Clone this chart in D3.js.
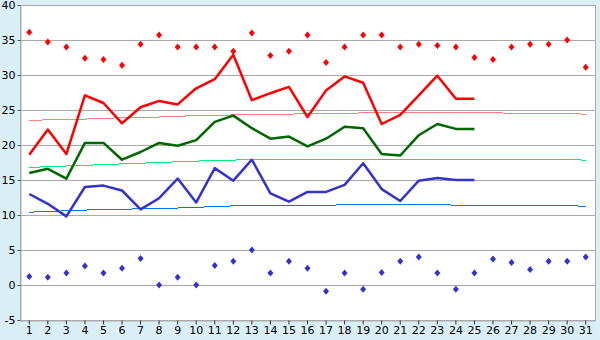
<!DOCTYPE html>
<script src="https://cdn.jsdelivr.net/npm/d3@7"></script>
<html>
<head>
<style>
  body { margin: 0; background: #d9eef5; }
  text { font-family: "DejaVu Sans", Verdana, sans-serif; font-size: 11px; fill: #000; }
</style>
</head>
<body>
<div id="chart-div"></div>
<script>
  // days of the month
  const days = d3.range(1, 32);

  // daily extremes (diamonds)
  const maxTemps = [36.1, 34.7, 34.0, 32.4, 32.2, 31.4, 34.4, 35.7, 34.0, 34.0,
                    34.0, 33.4, 36.0, 32.8, 33.4, 35.7, 31.8, 34.0, 35.7, 35.7,
                    34.0, 34.4, 34.2, 34.0, 32.5, 32.2, 34.0, 34.4, 34.4, 35.0, 31.1];
  const minTemps = [1.2, 1.1, 1.7, 2.7, 1.7, 2.4, 3.8, 0.0, 1.1, 0.0,
                    2.8, 3.4, 5.0, 1.7, 3.4, 2.4, -0.9, 1.7, -0.6, 1.8,
                    3.4, 4.0, 1.7, -0.6, 1.7, 3.7, 3.2, 2.2, 3.4, 3.4, 4.0];

  // this month's daily values (days 1-25)
  const dayMax = [18.6, 22.2, 18.7, 27.1, 26.0, 23.1, 25.4, 26.3, 25.8, 28.1,
                  29.4, 32.9, 26.4, 27.4, 28.3, 24.0, 27.8, 29.8, 28.9, 23.0,
                  24.3, 27.1, 29.9, 26.6, 26.6];
  const dayMean = [16.0, 16.6, 15.2, 20.3, 20.3, 17.9, 19.0, 20.3, 19.9, 20.7,
                   23.3, 24.2, 22.4, 20.9, 21.2, 19.8, 20.9, 22.6, 22.4, 18.7,
                   18.5, 21.4, 23.0, 22.3, 22.3];
  const dayMin = [13.0, 11.6, 9.8, 14.0, 14.2, 13.5, 10.8, 12.4, 15.2, 11.8,
                  16.7, 14.9, 17.9, 13.1, 11.9, 13.3, 13.3, 14.3, 17.4, 13.7,
                  12.0, 14.9, 15.3, 15.0, 15.0];

  // long-term normals (all 31 days)
  const normMax = [23.5, 23.6, 23.6, 23.7, 23.8, 23.9, 23.9, 24.0, 24.1, 24.2,
                   24.2, 24.3, 24.3, 24.4, 24.4, 24.5, 24.5, 24.5, 24.6, 24.6,
                   24.65, 24.65, 24.65, 24.65, 24.65, 24.65, 24.5, 24.5, 24.5, 24.5, 24.4];
  const normMean = [16.8, 16.9, 17.0, 17.1, 17.2, 17.3, 17.4, 17.5, 17.6, 17.7,
                    17.8, 17.85, 17.9, 18.0, 18.0, 18.0, 18.0, 18.0, 18.0, 18.0,
                    18.0, 18.0, 18.0, 18.0, 18.0, 18.0, 18.0, 18.0, 18.0, 18.0, 17.8];
  const normMin = [10.4, 10.5, 10.6, 10.7, 10.8, 10.8, 10.9, 11.0, 11.0, 11.1,
                   11.2, 11.3, 11.3, 11.4, 11.4, 11.4, 11.4, 11.45, 11.5, 11.5,
                   11.5, 11.5, 11.5, 11.4, 11.4, 11.4, 11.4, 11.4, 11.4, 11.4, 11.2];

  const yTicks = [-5, 0, 5, 10, 15, 20, 25, 30, 35, 40];

  const W = 600, H = 340;
  const margin = { top: 5, right: 5, bottom: 20, left: 20 };
  const width = W - margin.left - margin.right;
  const height = H - margin.top - margin.bottom;

  const svg = d3.select("#chart-div")
    .append("svg")
    .attr("width", W)
    .attr("height", H)
    .style("display", "block")
    .append("g")
    .attr("transform", "translate(" + margin.left + "," + margin.top + ")");

  const x = d3.scaleBand()
    .domain(days)
    .range([0, width]);
  const cx = d => x(d) + x.bandwidth() / 2;

  const y = d3.scaleLinear()
    .domain([-5, 40])
    .range([height, 0]);

  // white plot area
  svg.append("rect")
    .attr("width", width)
    .attr("height", height)
    .attr("fill", "#fff")
    .attr("stroke", "#aaa")
    .attr("shape-rendering", "crispEdges");

  // grid lines
  svg.append("g")
    .selectAll("line")
    .data(yTicks)
    .enter()
    .append("line")
    .attr("x1", 0)
    .attr("x2", width)
    .attr("y1", d => Math.round(y(d)) + 0.5)
    .attr("y2", d => Math.round(y(d)) + 0.5)
    .attr("stroke", "#aaa");

  // y axis
  const yAxis = svg.append("g")
    .attr("transform", "translate(0.5,0)")
    .call(d3.axisLeft(y).tickValues(yTicks).tickSize(3).tickPadding(2).tickFormat(d => String(d)));
  yAxis.select(".domain").attr("stroke", "#aaa");
  yAxis.selectAll(".tick line").attr("stroke", "#555");
  yAxis.selectAll("text").style("font-size", "11px").attr("fill", "#000");

  // x axis
  const xAxis = svg.append("g")
    .attr("transform", "translate(0," + (height + 0.5) + ")")
    .call(d3.axisBottom(x).tickSize(4).tickPadding(2).tickSizeOuter(0));
  xAxis.select(".domain").attr("stroke", "#aaa");
  xAxis.selectAll(".tick line").attr("stroke", "#333");
  xAxis.selectAll("text").style("font-size", "11px").attr("fill", "#000");

  // thin normal lines
  const normLine = d3.line().x((d, i) => cx(days[i])).y(d => y(d));
  const normals = [
    { data: normMax, color: "#ff8080" },
    { data: normMean, color: "#00ee77" },
    { data: normMin, color: "#0077ee" }
  ];
  svg.append("g")
    .selectAll("path")
    .data(normals)
    .enter()
    .append("path")
    .attr("d", d => normLine(d.data))
    .attr("fill", "none")
    .attr("stroke", d => d.color)
    .attr("stroke-width", 1)
    .attr("shape-rendering", "crispEdges");

  // this month's lines
  const line = d3.line().x((d, i) => cx(days[i])).y(d => y(d));
  const series = [
    { data: dayMax, color: "#ff0000" },
    { data: dayMean, color: "#006600" },
    { data: dayMin, color: "#3333cc" }
  ];
  svg.append("g")
    .selectAll("path")
    .data(series)
    .enter()
    .append("path")
    .attr("d", d => line(d.data))
    .attr("fill", "none")
    .attr("stroke", d => d.color)
    .attr("stroke-width", 2.5)
    .attr("stroke-linejoin", "round");

  // extreme diamonds
  const diamond = "M0,-3.5L3,0L0,3.5L-3,0Z";
  const points = [
    { data: maxTemps, color: "#ff0000" },
    { data: minTemps, color: "#3333cc" }
  ];
  points.forEach(p => {
    svg.append("g")
      .selectAll("path")
      .data(p.data)
      .enter()
      .append("path")
      .attr("d", diamond)
      .attr("transform", (d, i) => "translate(" + cx(days[i]) + "," + y(d) + ")")
      .attr("fill", p.color);
  });
</script>
</body>
</html>
